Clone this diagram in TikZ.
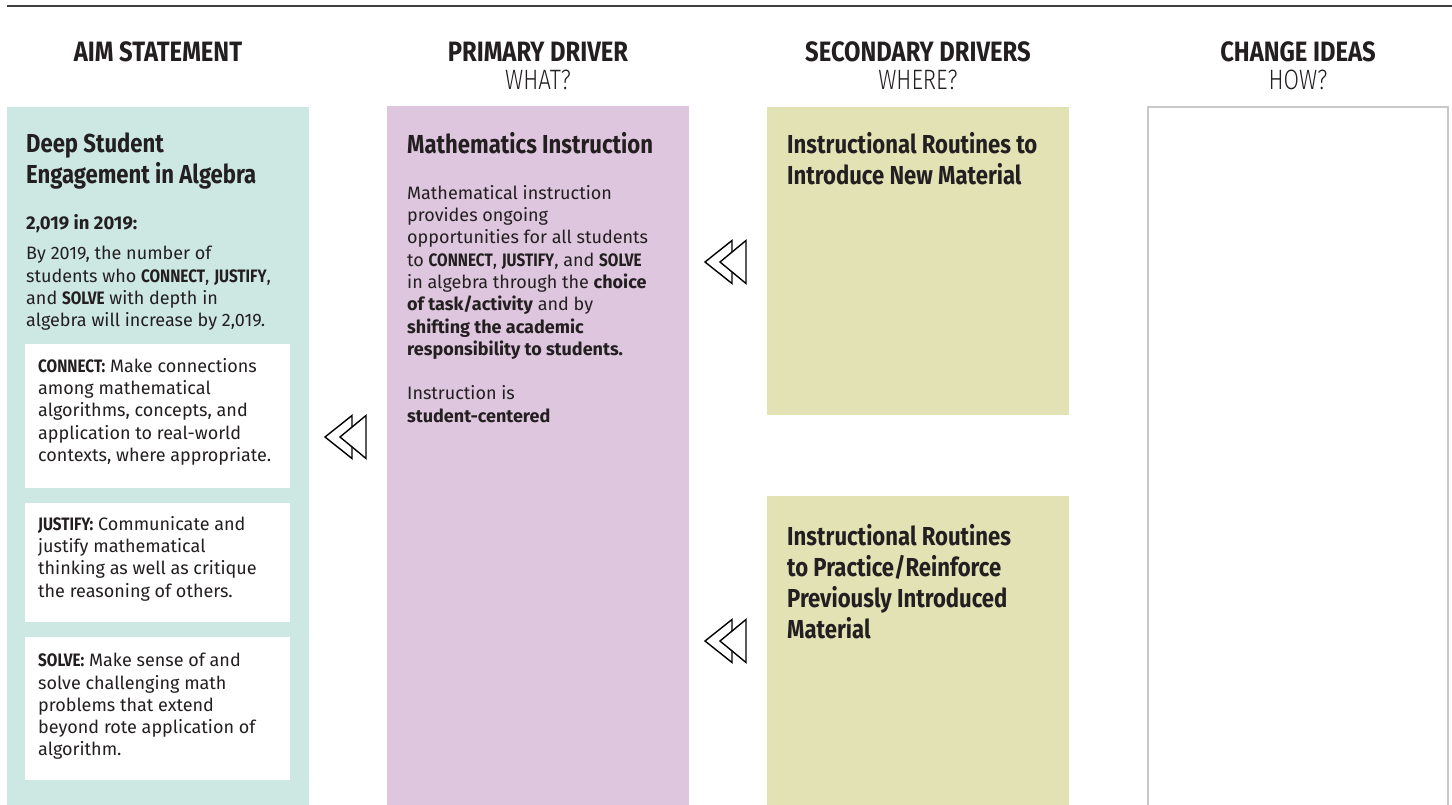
\documentclass[tikz,border=0pt]{standalone}
\usepackage{fontspec}
\setmainfont{Fira Sans}
\newfontfamily\condfont[FakeStretch=0.85]{Fira Sans}
\newfontfamily\condlight[FakeStretch=0.8]{Fira Sans Light}
\definecolor{inkcol}{RGB}{35,31,32}
\definecolor{aimcol}{RGB}{205,232,227}
\definecolor{primcol}{RGB}{221,198,222}
\definecolor{secdcol}{RGB}{227,226,181}
\definecolor{edgecol}{RGB}{200,200,200}
\newcommand\kw[1]{{\condfont\bfseries #1}}
\begin{document}
\begin{tikzpicture}[x=1pt, y=-1pt,
  colbox/.style = {draw=none, anchor=north west, inner sep=0, minimum width=302pt, minimum height=#1},
  whitebox/.style = {fill=white, anchor=north west, inner sep=0, minimum width=265pt, minimum height=#1},
  headtxt/.style = {anchor=base, inner sep=0, text=inkcol, font=\condfont\bfseries\fontsize{28}{28}\selectfont},
  subtxt/.style = {anchor=base, inner sep=0, text=inkcol, font=\condlight\fontsize{28}{28}\selectfont},
  titletxt/.style = {anchor=north west, inner sep=0, align=left, text=inkcol, font=\condfont\bfseries\fontsize{26}{31}\selectfont},
  bodytxt/.style = {anchor=north west, inner sep=0, align=left, text=inkcol, font=\fontsize{18}{22.3}\selectfont},
  rewind/.pic = {
    \draw[line width=1.4pt, line join=miter] (-21,0) -- (6,-21.5) -- (6,21.5) -- cycle;
    \filldraw[fill=white, line width=1.4pt, line join=miter] (-6,0) -- (20,-21.5) -- (20,21.5) -- cycle;
  }]

\clip (0,0) rectangle (1452,805);
\fill[white] (0,0) rectangle (1452,805);

% rule on top
\draw[line width=1.5pt, black!75] (7,6) -- (1452,6);

% column heads
\node[headtxt] (aimhead) at (158,62) {AIM STATEMENT};
\node[headtxt] (primhead) at (538,62) {PRIMARY DRIVER};
\node[subtxt] (primsub) at (538,90) {WHAT?};
\node[headtxt] (secdhead) at (918,62) {SECONDARY DRIVERS};
\node[subtxt] (secdsub) at (918,90) {WHERE?};
\node[headtxt] (chghead) at (1298,62) {CHANGE IDEAS};
\node[subtxt] (chgsub) at (1298,90) {HOW?};

% columns
\node[colbox=720pt, fill=aimcol] (aim) at (7,107) {};
\node[colbox=720pt, fill=primcol] (prim) at (387,106) {};
\node[colbox=308pt, fill=secdcol] (secdA) at (767,107) {};
\node[colbox=320pt, fill=secdcol] (secdB) at (767,496) {};
\draw[edgecol, line width=2pt] (1148,830) -- (1148,107) -- (1448,107) -- (1448,830);

% aim statement
\node[titletxt] (aimtitle) at (26,133) {Deep Student\\Engagement in Algebra};
\node[bodytxt, font=\bfseries\fontsize{18.5}{20}\selectfont] (aimgoal) at (26,214) {2,019 in 2019:};
\node[bodytxt] (aimtext) at (26,246) {By 2019, the number of\\students who \kw{CONNECT}, \kw{JUSTIFY},\\and \kw{SOLVE} with depth in\\algebra will increase by 2,019.};

\node[whitebox=144pt] (connbox) at (25,344) {};
\node[whitebox=119pt] (justbox) at (25,503) {};
\node[whitebox=143pt] (solvbox) at (25,637) {};
\node[bodytxt] (conntext) at (38,358) {\kw{CONNECT:} Make connections\\among mathematical\\algorithms, concepts, and\\application to real-world\\contexts, where appropriate.};
\node[bodytxt] (justtext) at (38,516) {\kw{JUSTIFY:} Communicate and\\justify mathematical\\thinking as well as critique\\the reasoning of others.};
\node[bodytxt] (solvtext) at (38,653) {\kw{SOLVE:} Make sense of and\\solve challenging math\\problems that extend\\beyond rote application of\\algorithm.};

% primary driver
\node[titletxt] (primtitle) at (407,132) {Mathematics Instruction};
\node[bodytxt] (primtext) at (407,185) {Mathematical instruction\\provides ongoing\\opportunities for all students\\to \kw{CONNECT}, \kw{JUSTIFY}, and \kw{SOLVE}\\in algebra through the \textbf{choice}\\\textbf{of task/activity} and by\\\textbf{shifting the academic}\\\textbf{responsibility to students.}\\[22.3pt]Instruction is\\\textbf{student-centered}};

% secondary drivers
\node[titletxt] (secdAtitle) at (787,132) {Instructional Routines to\\Introduce New Material};
\node[titletxt] (secdBtitle) at (787,524) {Instructional Routines\\to Practice/Reinforce\\Previously Introduced\\Material};

% arrows between columns
\pic (arrA) at (346,437) {rewind};
\pic (arrB) at (726,262) {rewind};
\pic (arrC) at (726,641) {rewind};

\end{tikzpicture}
\end{document}
